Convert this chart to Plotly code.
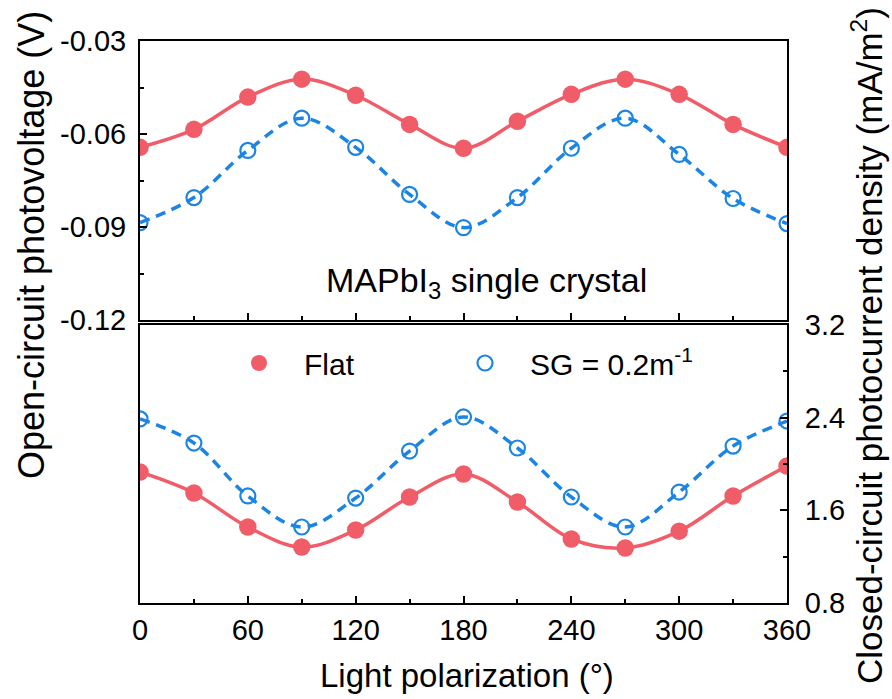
import plotly.graph_objects as go

# Polarization angle (degrees)
angle = [0, 30, 60, 90, 120, 150, 180, 210, 240, 270, 300, 330, 360]

# Open-circuit photovoltage (V)
voc_flat = [-0.0643, -0.0585, -0.0481, -0.0423, -0.0475, -0.0569, -0.0646,
            -0.0559, -0.0472, -0.0423, -0.0472, -0.0569, -0.0643]
voc_sg = [-0.0886, -0.0805, -0.0653, -0.0549, -0.0643, -0.0795, -0.0902,
          -0.0805, -0.0646, -0.0549, -0.0666, -0.0808, -0.0889]

# Closed-circuit photocurrent density (mA/m^2)
jsc_flat = [1.931, 1.750, 1.456, 1.283, 1.430, 1.715, 1.914,
            1.672, 1.353, 1.275, 1.420, 1.724, 1.983]
jsc_sg = [2.389, 2.181, 1.724, 1.456, 1.706, 2.112, 2.406,
          2.138, 1.715, 1.456, 1.758, 2.155, 2.371]

# Tick positions and labels
x_ticks = [0, 60, 120, 180, 240, 300, 360]
voc_ticks = [-0.12, -0.09, -0.06, -0.03]
voc_labels = ["-0.12", "-0.09", "-0.06", "-0.03"]
jsc_ticks = [0.8, 1.6, 2.4, 3.2]
jsc_labels = ["0.8", "1.6", "2.4", "3.2"]

RED = "#F05C68"
BLUE = "#1C85E3"
FONT = "Liberation Sans, Arial, sans-serif"
NB = "\u00a0\u00a0\u00a0"

fit_red = dict(color=RED, width=3.5, shape="spline")
fit_blue = dict(color=BLUE, width=3.5, shape="spline", dash="10px,7px")
mk_red = dict(color=RED, size=17.5, symbol="circle")
mk_blue = dict(color=BLUE, size=15, symbol="circle-open", line=dict(width=2.2, color=BLUE))

fig = go.Figure()

# Top panel: photovoltage
fig.add_trace(go.Scatter(x=angle, y=voc_flat, mode="lines", line=fit_red,
                         xaxis="x2", yaxis="y2", showlegend=False, hoverinfo="skip"))
fig.add_trace(go.Scatter(x=angle, y=voc_sg, mode="lines", line=fit_blue,
                         xaxis="x2", yaxis="y2", showlegend=False, hoverinfo="skip"))
fig.add_trace(go.Scatter(x=angle, y=voc_flat, mode="markers", marker=mk_red,
                         xaxis="x2", yaxis="y2", showlegend=False))
fig.add_trace(go.Scatter(x=angle, y=voc_sg, mode="markers", marker=mk_blue,
                         xaxis="x2", yaxis="y2", showlegend=False))

# Bottom panel: photocurrent density
fig.add_trace(go.Scatter(x=angle, y=jsc_flat, mode="lines", line=fit_red,
                         showlegend=False, hoverinfo="skip"))
fig.add_trace(go.Scatter(x=angle, y=jsc_sg, mode="lines", line=fit_blue,
                         showlegend=False, hoverinfo="skip"))
fig.add_trace(go.Scatter(x=angle, y=jsc_flat, mode="markers", name=NB + "Flat", marker=mk_red,
                         legend="legend"))
fig.add_trace(go.Scatter(x=angle, y=jsc_sg, mode="markers", name=NB + "SG = 0.2m<sup>-1</sup>", marker=mk_blue,
                         legend="legend2"))

axis_common = dict(showline=True, linecolor="black", linewidth=2, mirror=True,
                   ticks="inside", tickcolor="black", tickwidth=1.5, showgrid=False, zeroline=False,
                   tickfont=dict(size=29, color="black", family=FONT))

L, R, T, B = 140, 787, 41, 603
H = B - T
W = R - L
TOP_LO = (B - 320) / H
BOT_HI = (B - 325) / H


def px_x(px):
    return (px - L) / W


def px_y(px):
    return (B - px) / H


legend_style = dict(orientation="h", xanchor="left", yanchor="middle", y=px_y(363),
                    font=dict(size=30, color="black", family=FONT), bgcolor="rgba(0,0,0,0)")

fig.update_layout(
    width=892, height=699,
    margin=dict(l=L, r=892 - R, t=T, b=699 - B),
    paper_bgcolor="white", plot_bgcolor="white",
    font=dict(family=FONT, color="black"),
    xaxis=dict(domain=[0, 1], range=[0, 360], tickvals=x_ticks, ticklen=7, ticklabelstandoff=0,
               minor=dict(dtick=30, tick0=0, ticks="inside", ticklen=4, tickcolor="black"),
               anchor="y", **axis_common),
    yaxis=dict(domain=[0, BOT_HI], range=[0.8, 3.2], tickvals=jsc_ticks, ticktext=jsc_labels,
               side="right", ticklen=7, ticklabelstandoff=10,
               minor=dict(dtick=0.4, tick0=0.8, ticks="inside", ticklen=4, tickcolor="black"),
               anchor="x", **axis_common),
    xaxis2=dict(domain=[0, 1], range=[0, 360], tickvals=x_ticks, ticklen=7, showticklabels=False,
                minor=dict(dtick=30, tick0=0, ticks="inside", ticklen=4, tickcolor="black"),
                anchor="y2", **axis_common),
    yaxis2=dict(domain=[TOP_LO, 1], range=[-0.12, -0.03], tickvals=voc_ticks, ticktext=voc_labels,
                ticklen=7, ticklabelstandoff=6,
                minor=dict(dtick=0.015, tick0=-0.12, ticks="inside", ticklen=4, tickcolor="black"),
                anchor="x2", **axis_common),
    legend=dict(x=px_x(239), **legend_style),
    legend2=dict(x=px_x(465), **legend_style),
    annotations=[
        dict(text="MAPbI<sub>3</sub> single crystal", x=px_x(486), y=px_y(282), xref="paper", yref="paper",
             xanchor="center", yanchor="middle", showarrow=False,
             font=dict(size=34, color="black", family=FONT)),
        dict(text="Open-circuit photovoltage (V)", x=px_x(31), y=px_y(245),
             xref="paper", yref="paper", xanchor="center", yanchor="middle", textangle=-90, showarrow=False,
             font=dict(size=36, color="black", family=FONT)),
        dict(text="Closed-circuit photocurrent density (mA/m<sup>2</sup>)", x=px_x(867), y=px_y(346),
             xref="paper", yref="paper", xanchor="center", yanchor="middle", textangle=-90, showarrow=False,
             font=dict(size=35, color="black", family=FONT)),
        dict(text="Light polarization (°)", x=px_x(467), y=px_y(675), xref="paper", yref="paper",
             xanchor="center", yanchor="middle", showarrow=False,
             font=dict(size=33, color="black", family=FONT)),
    ],
)

fig.write_html("out.html")
